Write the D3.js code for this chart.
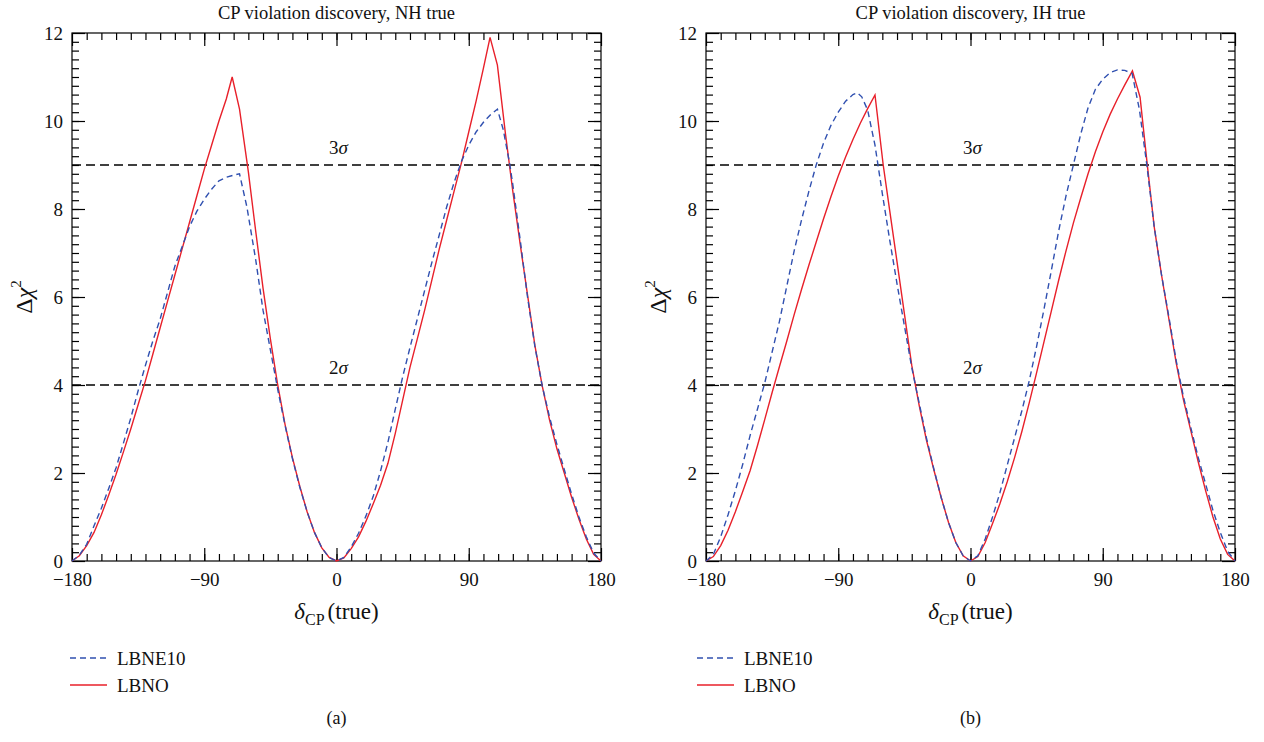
<!DOCTYPE html>
<html>
<head>
<meta charset="utf-8">
<script src="https://cdn.jsdelivr.net/npm/d3@7"></script>
<style>
  body { margin: 0; background: #fff; }
  svg text { font-family: "Liberation Serif", "DejaVu Serif", serif; fill: #111; }
</style>
</head>
<body>
<div id="chart"></div>
<script>
// Layout constants
const WIDTH = 1264;
const HEIGHT = 742;
const PANEL_X = [72, 706];
const PANEL_W = 529;
const PLOT_TOP = 33;
const PLOT_BOTTOM = 561;

const RED = "#e8202a";
const BLUE = "#3050b0";

// Data: [delta_CP (true), delta chi^2]
const NH_LBNE10 = [
  [-180, 0], [-175, 0.13], [-170, 0.38], [-165, 0.8], [-160, 1.2], [-155, 1.65],
  [-150, 2.12], [-145, 2.68], [-140, 3.25], [-135, 3.87], [-130, 4.45], [-125, 5.0],
  [-120, 5.5], [-115, 6.1], [-110, 6.7], [-105, 7.15], [-100, 7.6], [-95, 7.95],
  [-90, 8.22], [-85, 8.45], [-80, 8.64], [-75, 8.72], [-70, 8.77], [-66, 8.8],
  [-61, 8.05], [-55, 6.85], [-50, 5.7], [-45, 4.8], [-40, 3.9], [-35, 3.08],
  [-30, 2.33], [-25, 1.68], [-20, 1.12], [-15, 0.65], [-10, 0.3], [-5, 0.08], [0, 0],
  [5, 0.08], [10, 0.32], [15, 0.63], [20, 1.02], [25, 1.47], [30, 2.05], [35, 2.7],
  [40, 3.45], [45, 4.18], [50, 4.85], [55, 5.5], [60, 6.15], [65, 6.8], [70, 7.42],
  [75, 8.05], [80, 8.6], [85, 9.08], [90, 9.45], [95, 9.75], [100, 9.97], [105, 10.15],
  [109.5, 10.27], [113.5, 9.8], [118, 9.0], [120, 8.55], [125, 7.3], [130, 6.0],
  [135, 4.88], [140, 3.98], [145, 3.27], [150, 2.65], [155, 2.08], [160, 1.52],
  [165, 1.0], [170, 0.55], [175, 0.18], [180, 0]
];
const NH_LBNO = [
  [-180, 0], [-175, 0.12], [-170, 0.35], [-165, 0.65], [-160, 1.05], [-155, 1.5],
  [-150, 1.97], [-145, 2.48], [-140, 3.0], [-135, 3.55], [-130, 4.1], [-125, 4.7],
  [-120, 5.3], [-115, 5.9], [-110, 6.5], [-105, 7.1], [-100, 7.7], [-95, 8.3],
  [-90, 8.9], [-85, 9.45], [-80, 10.0], [-75, 10.5], [-71, 11.0], [-66, 10.27],
  [-60, 8.85], [-55, 7.5], [-50, 6.2], [-45, 5.05], [-40, 4.0], [-35, 3.1],
  [-30, 2.35], [-25, 1.7], [-20, 1.12], [-15, 0.65], [-10, 0.3], [-5, 0.08], [0, 0],
  [5, 0.07], [10, 0.28], [15, 0.55], [20, 0.9], [25, 1.3], [30, 1.72], [35, 2.22],
  [40, 2.9], [45, 3.65], [50, 4.4], [55, 5.05], [60, 5.7], [65, 6.4], [70, 7.1],
  [75, 7.75], [80, 8.4], [85, 9.05], [90, 9.75], [95, 10.45], [100, 11.2],
  [104.5, 11.9], [109.5, 11.27], [115, 9.7], [120, 8.4], [125, 7.2], [130, 6.05],
  [135, 4.9], [140, 3.98], [145, 3.2], [150, 2.55], [155, 2.0], [160, 1.45],
  [165, 0.95], [170, 0.5], [175, 0.15], [180, 0]
];
const IH_LBNE10 = [
  [-180, 0], [-175, 0.15], [-170, 0.55], [-165, 1.05], [-160, 1.6], [-155, 2.2],
  [-150, 2.85], [-145, 3.45], [-140, 4.05], [-135, 4.75], [-130, 5.45], [-125, 6.25],
  [-120, 7.05], [-115, 7.75], [-110, 8.4], [-105, 9.0], [-100, 9.5], [-95, 9.9],
  [-90, 10.2], [-85, 10.45], [-80, 10.6], [-77, 10.64], [-74, 10.55], [-70, 10.25],
  [-65, 9.45], [-60, 8.35], [-55, 7.3], [-50, 6.3], [-45, 5.35], [-40, 4.4],
  [-35, 3.6], [-30, 2.8], [-25, 2.1], [-20, 1.45], [-15, 0.88], [-10, 0.42],
  [-5, 0.12], [0, 0], [5, 0.12], [10, 0.5], [15, 1.0], [20, 1.55], [25, 2.18],
  [30, 2.8], [35, 3.42], [40, 4.1], [45, 4.88], [50, 5.72], [55, 6.6], [60, 7.5],
  [65, 8.3], [70, 9.0], [75, 9.7], [80, 10.3], [85, 10.72], [90, 10.95], [95, 11.1],
  [100, 11.16], [105, 11.15], [110, 11.08], [115, 10.25], [120, 9.0], [125, 7.6],
  [130, 6.5], [135, 5.55], [140, 4.55], [145, 3.72], [150, 3.02], [155, 2.35],
  [160, 1.75], [165, 1.15], [170, 0.65], [175, 0.22], [180, 0]
];
const IH_LBNO = [
  [-180, 0], [-175, 0.1], [-170, 0.35], [-165, 0.7], [-160, 1.12], [-155, 1.58],
  [-150, 2.05], [-145, 2.62], [-140, 3.22], [-135, 3.83], [-130, 4.42], [-125, 5.0],
  [-120, 5.6], [-115, 6.17], [-110, 6.72], [-105, 7.25], [-100, 7.78], [-95, 8.28],
  [-90, 8.75], [-85, 9.18], [-80, 9.58], [-75, 9.95], [-70, 10.28], [-65, 10.59],
  [-59.4, 9.0], [-55, 7.97], [-50, 6.8], [-45, 5.62], [-40, 4.45], [-35, 3.55],
  [-30, 2.75], [-25, 2.08], [-20, 1.45], [-15, 0.88], [-10, 0.42], [-5, 0.12], [0, 0],
  [5, 0.1], [10, 0.42], [15, 0.85], [20, 1.3], [25, 1.8], [30, 2.35], [35, 2.95],
  [40, 3.6], [45, 4.28], [50, 4.98], [55, 5.68], [60, 6.38], [65, 7.05], [70, 7.68],
  [75, 8.25], [80, 8.8], [85, 9.3], [90, 9.75], [95, 10.15], [100, 10.5], [105, 10.82],
  [110.2, 11.14], [115.4, 10.54], [120, 9.1], [125, 7.6], [130, 6.5], [135, 5.5],
  [140, 4.5], [145, 3.65], [150, 2.95], [155, 2.25], [160, 1.6], [165, 1.0],
  [170, 0.5], [175, 0.15], [180, 0]
];

const PANEL_TITLES = ["CP violation discovery, NH true", "CP violation discovery, IH true"];
const PANEL_TAGS = ["(a)", "(b)"];
const SERIES_NAMES = ["LBNE10", "LBNO"];
const X_MAJOR = [-180, -90, 0, 90, 180];
const X_MINOR = d3.range(-170, 180, 10);
const Y_MAJOR = [0, 2, 4, 6, 8, 10, 12];
const Y_MINOR = d3.range(0.2, 12, 0.2);
const SIGMA_VALUES = [4, 9];
const SIGMA_LABELS = ["2", "3"];

const panels = [
  { blue: NH_LBNE10, red: NH_LBNO },
  { blue: IH_LBNE10, red: IH_LBNO }
];

const svg = d3.select("#chart").append("svg")
  .attr("width", WIDTH)
  .attr("height", HEIGHT);

panels.forEach((p, i) => drawPanel(p, i));

function styleAxis(g) {
  g.select(".domain").remove();
  g.attr("font-family", "Liberation Serif, DejaVu Serif, serif").attr("font-size", 19);
  g.selectAll(".tick line").attr("stroke", "#000").attr("stroke-width", 1.2);
}

function drawPanel(p, i) {
  const left = PANEL_X[i];
  const x = d3.scaleLinear().domain([-180, 180]).range([left, left + PANEL_W]);
  const y = d3.scaleLinear().domain([0, 12]).range([PLOT_BOTTOM, PLOT_TOP]);
  const g = svg.append("g");

  // ticks on all four sides, pointing inward
  const sides = [
    [d3.axisBottom, `translate(0,${PLOT_BOTTOM})`, x, X_MAJOR, X_MINOR, true],
    [d3.axisTop, `translate(0,${PLOT_TOP})`, x, X_MAJOR, X_MINOR, false],
    [d3.axisLeft, `translate(${left},0)`, y, Y_MAJOR, Y_MINOR, true],
    [d3.axisRight, `translate(${left + PANEL_W},0)`, y, Y_MAJOR, Y_MINOR, false]
  ];
  sides.forEach(([axisFn, tr, scale, major, minor, labels]) => {
    g.append("g").attr("transform", tr)
      .call(axisFn(scale).tickValues(minor).tickSize(-7).tickFormat(""))
      .call(styleAxis);
    g.append("g").attr("transform", tr)
      .call(axisFn(scale).tickValues(major).tickSize(-13)
        .tickPadding(axisFn === d3.axisBottom ? 12 : 9)
        .tickFormat(labels ? d3.format("d") : ""))
      .call(styleAxis);
  });

  // frame
  g.append("rect")
    .attr("x", left).attr("y", PLOT_TOP)
    .attr("width", PANEL_W).attr("height", PLOT_BOTTOM - PLOT_TOP)
    .attr("fill", "none").attr("stroke", "#000").attr("stroke-width", 1.2);

  // significance levels
  SIGMA_VALUES.forEach((v, k) => {
    g.append("line")
      .attr("x1", left).attr("x2", left + PANEL_W)
      .attr("y1", y(v)).attr("y2", y(v))
      .attr("stroke", "#000").attr("stroke-width", 1.4)
      .attr("stroke-dasharray", "9,5");
    const t = g.append("text")
      .attr("x", x(0) + 2).attr("y", y(v) - 11)
      .attr("text-anchor", "middle").attr("font-size", 19);
    t.append("tspan").text(SIGMA_LABELS[k]);
    t.append("tspan").attr("font-style", "italic").text("σ");
  });

  const line = d3.line().x(d => x(d[0])).y(d => y(d[1]));

  g.append("path").datum(p.red)
    .attr("d", line).attr("fill", "none")
    .attr("stroke", RED).attr("stroke-width", 1.4);
  g.append("path").datum(p.blue)
    .attr("d", line).attr("fill", "none")
    .attr("stroke", BLUE).attr("stroke-width", 1.4)
    .attr("stroke-dasharray", "6,4");

  // title
  g.append("text")
    .attr("x", x(0)).attr("y", 19)
    .attr("text-anchor", "middle").attr("font-size", 18.5)
    .text(PANEL_TITLES[i]);

  // y label
  const yl = g.append("text")
    .attr("transform", `translate(${left - 40},297) rotate(-90)`)
    .attr("text-anchor", "middle").attr("font-size", 24);
  yl.append("tspan").text("Δ");
  yl.append("tspan").attr("font-style", "italic").text("χ");
  yl.append("tspan").attr("font-size", 15).attr("dy", -11).text("2");

  // x label
  const xl = g.append("text")
    .attr("x", x(0)).attr("y", 619)
    .attr("text-anchor", "middle").attr("font-size", 23);
  xl.append("tspan").attr("font-style", "italic").text("δ");
  xl.append("tspan").attr("font-size", 16).attr("dy", 6).text("CP");
  xl.append("tspan").attr("dy", -6).attr("dx", 3).text("(true)");

  // legend
  const legX = i === 0 ? 70 : 697;
  [[BLUE, "6,4", 658], [RED, null, 685]].forEach(([c, dash, ly], k) => {
    g.append("line")
      .attr("x1", legX).attr("x2", legX + 37)
      .attr("y1", ly).attr("y2", ly)
      .attr("stroke", c).attr("stroke-width", 1.4)
      .attr("stroke-dasharray", dash);
    g.append("text")
      .attr("x", legX + 47).attr("y", ly + 6.5)
      .attr("font-size", 19)
      .text(SERIES_NAMES[k]);
  });

  // panel tag
  g.append("text")
    .attr("x", x(0)).attr("y", 724)
    .attr("text-anchor", "middle").attr("font-size", 18)
    .text(PANEL_TAGS[i]);
}
</script>
</body>
</html>
